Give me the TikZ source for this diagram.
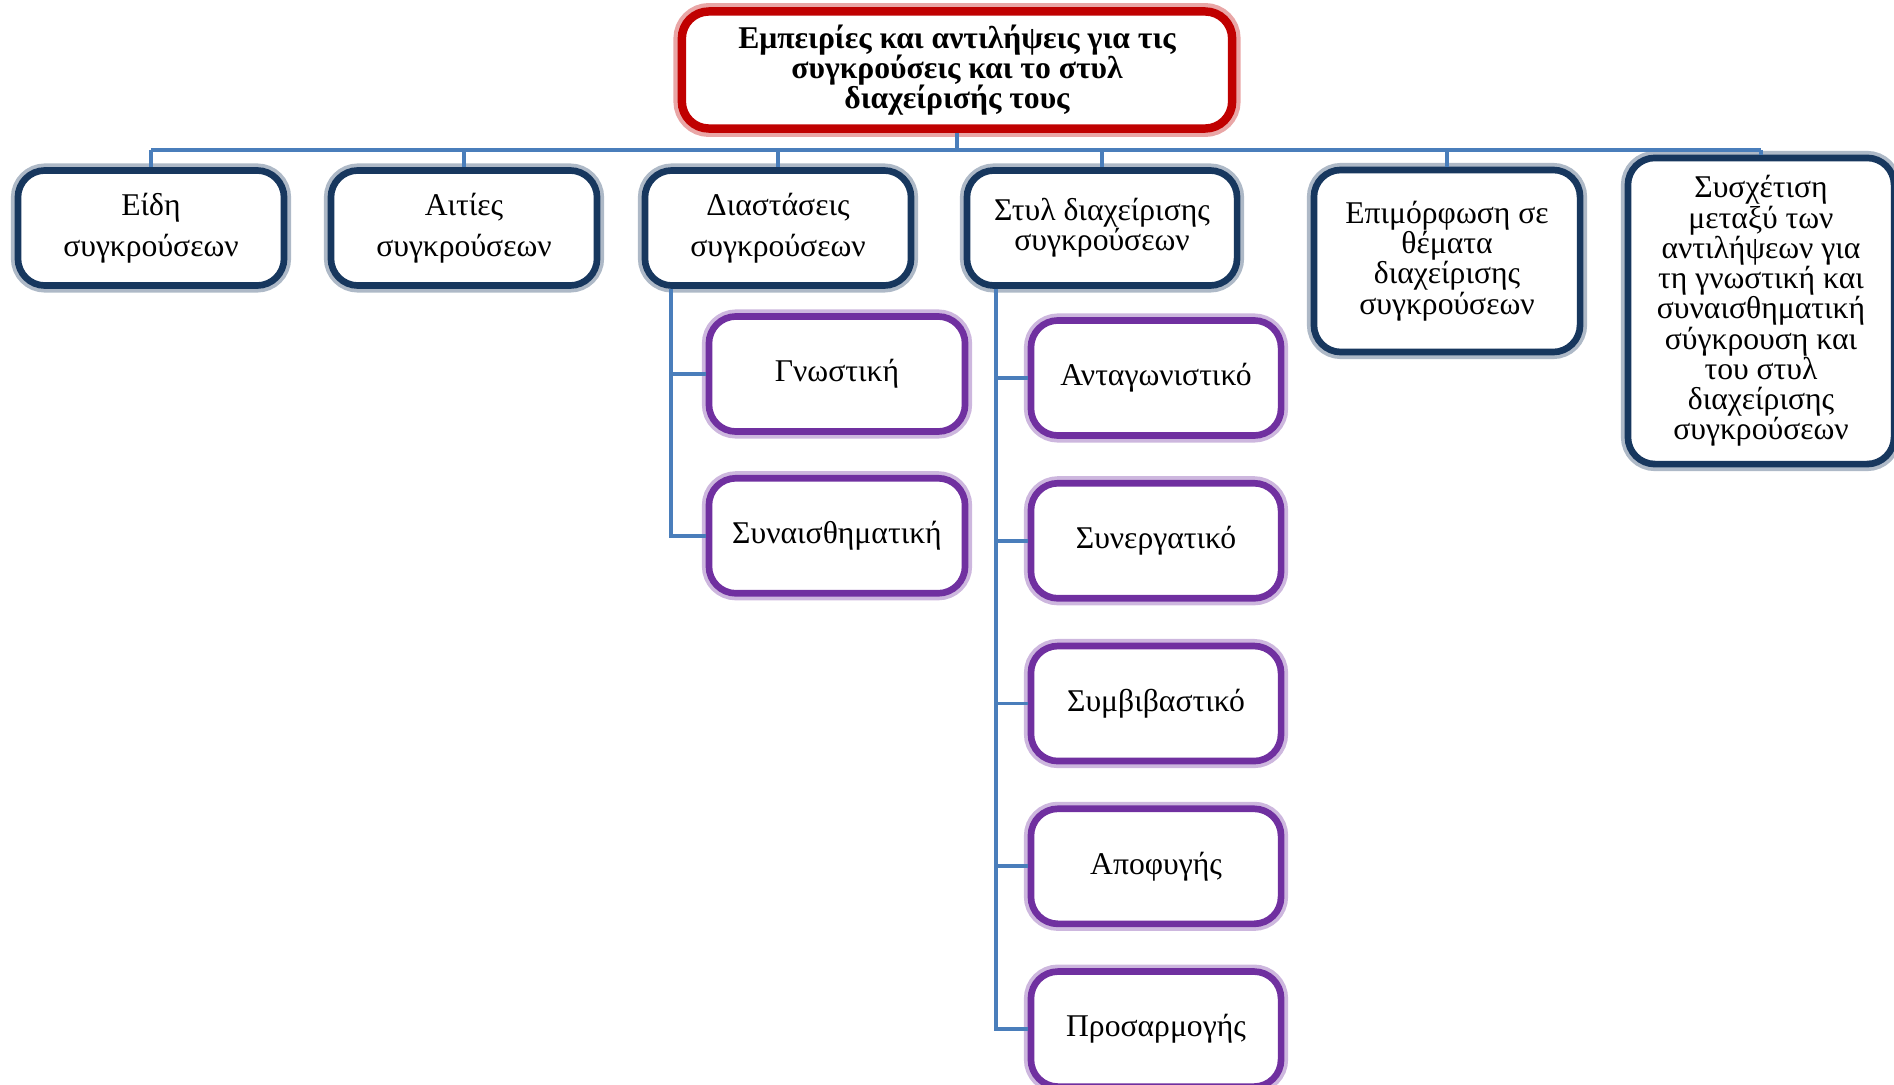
\documentclass[tikz,border=0pt]{standalone}
\usepackage{fontspec}
\setmainfont{Liberation Serif}
\usetikzlibrary{positioning}
\definecolor{navy}{RGB}{23,55,94}
\definecolor{boxpurple}{RGB}{112,48,160}
\definecolor{titlered}{RGB}{192,0,0}
\definecolor{linkblue}{RGB}{74,126,187}
\newcommand\boxfont{\fontsize{9}{8.6}\selectfont\lineskiplimit-6pt\relax}

\begin{document}
\begin{tikzpicture}
    [x=0.01cm,y=-0.01cm,
     every node/.style={rectangle,rounded corners=0.27cm,fill=white,align=center,font=\boxfont},
     topbox/.style={draw=titlered,line width=2.4pt,preaction={draw=titlered,opacity=.35,line width=4.8pt},minimum width=5.5cm,minimum height=1.17cm},
     mainbox/.style={draw=navy,line width=1.9pt,preaction={draw=navy,opacity=.35,line width=4pt},minimum width=2.66cm,minimum height=1.15cm},
     subbox/.style={draw=boxpurple,line width=1.9pt,preaction={draw=boxpurple,opacity=.35,line width=4pt},minimum width=2.56cm,minimum height=1.15cm},
     link/.style={draw=linkblue,line width=1.1pt}]
    \useasboundingbox (0,0) rectangle (1894,1085);

    % root
    \node[topbox] (top) at (957,70) {\bfseries Εμπειρίες και αντιλήψεις για τις\\ \bfseries συγκρούσεις και το στυλ\\ \bfseries διαχείρισής τους};
    \coordinate (bus) at (957,150);

    % first level
    \node[mainbox] (eidi) at (151,228) {Είδη\\[3pt] συγκρούσεων};
    \node[mainbox] (aities) at (464,228) {Αιτίες\\[3pt] συγκρούσεων};
    \node[mainbox] (diast) at (778,228) {Διαστάσεις\\[3pt] συγκρούσεων};
    \node[mainbox,minimum width=2.7cm] (styl) at (1102,228) {Στυλ διαχείρισης\\ συγκρούσεων};
    \node[mainbox,minimum height=1.82cm] (epim) at (1447,261) {Επιμόρφωση σε\\ θέματα\\ διαχείρισης\\ συγκρούσεων};
    \node[mainbox,minimum height=3.06cm] (sysx) at (1761,311) {Συσχέτιση\\ μεταξύ των\\ αντιλήψεων για\\ τη γνωστική και\\ συναισθηματική\\ σύγκρουση και\\ του στυλ\\ διαχείρισης\\ συγκρούσεων};

    % dimensions
    \node[subbox] (gnos) at (837,374) {Γνωστική};
    \node[subbox,below=0.40cm of gnos] (synais) {Συναισθηματική};

    % styles
    \node[subbox,minimum width=2.5cm] (antag) at (1156,378) {Ανταγωνιστικό};
    \node[subbox,minimum width=2.5cm,below=0.41cm of antag] (synerg) {Συνεργατικό};
    \node[subbox,minimum width=2.5cm,below=0.41cm of synerg] (symbib) {Συμβιβαστικό};
    \node[subbox,minimum width=2.5cm,below=0.41cm of symbib] (apof) {Αποφυγής};
    \node[subbox,minimum width=2.5cm,below=0.41cm of apof] (prosar) {Προσαρμογής};

    % connectors
    \draw[link] (top.south) -- (bus);
    \draw[link] (eidi.north |- bus) -- (sysx.north |- bus);
    \foreach \n in {eidi,aities,diast,styl,epim,sysx}
        \draw[link] (\n.north |- bus) -- (\n.north);
    \foreach \n in {gnos,synais}
        \draw[link] ([xshift=0.29cm]diast.south west) |- (\n.west);
    \foreach \n in {antag,synerg,symbib,apof,prosar}
        \draw[link] ([xshift=0.32cm]styl.south west) |- (\n.west);
\end{tikzpicture}
\end{document}
